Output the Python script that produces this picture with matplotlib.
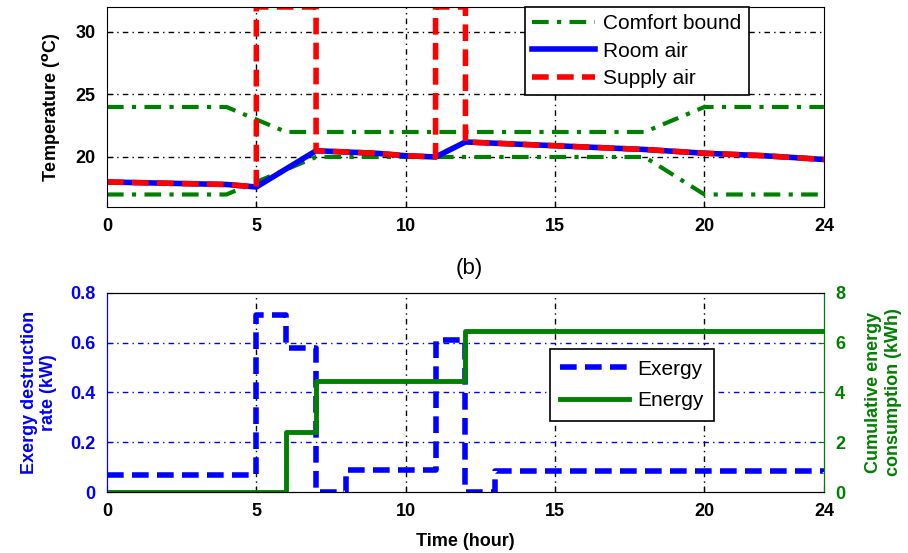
import numpy as np
import matplotlib.pyplot as plt

plt.rcParams['font.family'] = ['Liberation Sans', 'DejaVu Sans']

# --- данные (a): температуры
t_bound = [0, 4, 6, 18, 20, 24]
bound_hi = [24, 24, 22, 22, 24, 24]
t_bound_lo = [0, 4, 7, 18, 20, 24]
bound_lo = [17, 17, 20, 20, 17, 17]

t_room = [0, 4, 5, 7, 8, 9, 10, 11, 12, 14, 16, 18, 20, 22, 24]
room = [18.0, 17.8, 17.6, 20.5, 20.4, 20.3, 20.1, 20.0, 21.2, 21.0, 20.8, 20.6, 20.3, 20.1, 19.8]

t_supply = [0, 4, 5, 5, 7, 7, 8, 9, 10, 11, 11, 12, 12, 14, 16, 18, 20, 22, 24]
supply = [18.0, 17.8, 17.6, 32, 32, 20.5, 20.4, 20.3, 20.1, 20.0, 32, 32, 21.2,
          21.0, 20.8, 20.6, 20.3, 20.1, 19.8]

# --- данные (b): эксергия и энергия (ступенчатые)
t_exergy = [0, 5, 6, 7, 8, 11, 12, 13, 24]
exergy = [0.07, 0.71, 0.58, 0.0, 0.09, 0.61, 0.0, 0.085, 0.08]

t_energy = [0, 6, 7, 12, 24]
energy = [0.0, 2.4, 4.45, 6.45, 6.45]

xticks = [0, 5, 10, 15, 20, 24]
grid_ls = (0, (4, 3, 1, 3))
fs = 13

fig = plt.figure(figsize=(9.08, 5.53), dpi=100)

# ===== верхний график
ax1 = fig.add_axes([0.1178, 0.6257, 0.7896, 0.3617])
ax1.plot(t_bound, bound_hi, color='green', lw=3, ls=(0, (4, 2, 1, 2)), label='Comfort bound')
ax1.plot(t_bound_lo, bound_lo, color='green', lw=3, ls=(0, (4, 2, 1, 2)))
ax1.plot(t_room, room, color='blue', lw=4, label='Room air')
ax1.plot(t_supply, supply, color='red', lw=4, ls=(0, (3, 1.5)), label='Supply air')
ax1.set_xlim(0, 24)
ax1.set_ylim(16, 32)
ax1.set_xticks(xticks)
ax1.set_yticks([20, 25, 30])
for x in [5, 10, 15, 20]:
    ax1.axvline(x, color='black', lw=1, ls=grid_ls, zorder=0)
for y in [20, 25, 30]:
    ax1.axhline(y, color='black', lw=1, ls=grid_ls, zorder=0)
ax1.tick_params(direction='in', labelsize=fs, length=4, pad=8)
for lab in ax1.get_xticklabels() + ax1.get_yticklabels():
    lab.set_fontweight('bold')
ax1.set_ylabel('Temperature ($^{\\mathbf{o}}$C)', fontsize=fs, fontweight='bold', labelpad=10)
leg1 = ax1.legend(loc='upper right', bbox_to_anchor=(0.895, 1.0), borderaxespad=0,
                  fontsize=15, fancybox=False, edgecolor='black', framealpha=1,
                  handlelength=3, borderpad=0.35, labelspacing=0.4, handletextpad=0.4)
leg1.get_frame().set_linewidth(1.2)

fig.text(0.517, 0.515, '(b)', fontsize=16, ha='center', va='center')

# ===== нижний график
ax2 = fig.add_axes([0.1178, 0.1103, 0.7896, 0.360])
l1, = ax2.step(t_exergy, exergy, where='post', color='blue', lw=4,
               ls=(0, (3, 1.5)), label='Exergy')
ax2.set_xlim(0, 24)
ax2.set_ylim(0, 0.8)
ax2.set_xticks(xticks)
ax2.set_yticks([0, 0.2, 0.4, 0.6, 0.8])
ax2.set_yticklabels(['0', '0.2', '0.4', '0.6', '0.8'])
for x in [5, 10, 15, 20]:
    ax2.axvline(x, color='black', lw=1, ls=grid_ls, zorder=0)
for y in [0.2, 0.4, 0.6]:
    ax2.axhline(y, color='blue', lw=1, ls=grid_ls, zorder=0)
ax2.tick_params(direction='in', labelsize=fs, length=4, pad=8)
ax2.tick_params(axis='y', colors='blue')
for lab in ax2.get_xticklabels() + ax2.get_yticklabels():
    lab.set_fontweight('bold')
ax2.spines['left'].set_color('blue')
ax2.set_ylabel('Exergy destruction\nrate (kW)', color='blue', fontsize=fs,
               fontweight='bold', linespacing=1.1, labelpad=10)
ax2.set_xlabel('Time (hour)', fontsize=fs, fontweight='bold', labelpad=9)

ax3 = ax2.twinx()
l2, = ax3.step(t_energy, energy, where='post', color='green', lw=3.5, label='Energy')
ax3.set_ylim(0, 8)
ax3.set_yticks([0, 2, 4, 6, 8])
ax3.tick_params(direction='in', labelsize=fs, length=4, colors='green', pad=8)
for lab in ax3.get_yticklabels():
    lab.set_fontweight('bold')
ax3.spines['right'].set_color('green')
ax3.spines['left'].set_color('blue')
ax3.set_ylabel('Cumulative energy\nconsumption (kWh)', color='green', fontsize=fs,
               fontweight='bold', linespacing=1.3, labelpad=14)
leg2 = ax3.legend([l1, l2], ['Exergy', 'Energy'], loc='center', bbox_to_anchor=(0.732, 0.538),
                  fontsize=15, fancybox=False, edgecolor='black', framealpha=1,
                  handlelength=3.3, borderpad=0.5, labelspacing=0.6, handletextpad=0.4)
leg2.get_frame().set_linewidth(1.2)

plt.savefig('out.png', dpi=100)
